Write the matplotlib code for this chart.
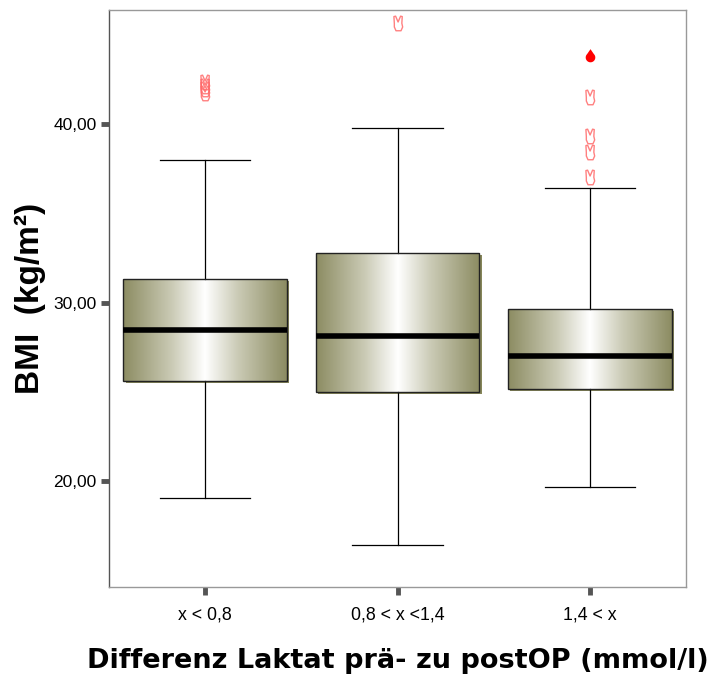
import numpy as np
import matplotlib
matplotlib.use("Agg")
import matplotlib.pyplot as plt
from matplotlib.colors import LinearSegmentedColormap
from matplotlib.patches import Rectangle
from matplotlib.path import Path

plt.rcParams['font.family'] = ['Liberation Sans', 'DejaVu Sans']

categories = ["x < 0,8", "0,8 < x <1,4", "1,4 < x"]
whisker_low = [19.05, 16.41, 19.66]
q1 = [25.60, 24.99, 25.15]
median = [28.46, 28.12, 27.00]
q3 = [31.32, 32.77, 29.64]
whisker_high = [37.98, 39.78, 36.41]
outliers = [[42.3, 42.1, 41.9, 41.7], [45.6], [41.46, 39.27, 38.38, 36.97]]
extremes = [[], [], [43.75]]
yticks = [20, 30, 40]

olive = "#8c8c62"
shadow = "#86865a"
cmap = LinearSegmentedColormap.from_list(
    "olive_sheen",
    [(0.0, olive), (0.3, "#cbcbb6"), (0.5, "#ffffff"), (0.7, "#cbcbb6"), (1.0, olive)])

fig = plt.figure(figsize=(7.12, 6.79), dpi=100)
ax = fig.add_axes([109 / 712, 1 - 587 / 679, 577 / 712, 577 / 679])
ax.set_xlim(-0.5, 2.5)
ax.set_ylim(14.06, 46.39)

width = 0.85
cap = 0.47
grad = np.linspace(0, 1, 256).reshape(1, -1)

# "victory hand" outline for outliers
hand = Path([(-0.5, -0.3), (-0.5, 0.1), (-0.55, 0.95), (-0.35, 1.0), (-0.05, 0.3),
             (0.25, 1.0), (0.45, 0.95), (0.4, 0.15), (0.5, -0.3), (0.3, -0.75),
             (-0.3, -0.75), (-0.5, -0.3)],
            [Path.MOVETO] + [Path.LINETO] * 10 + [Path.CLOSEPOLY])

# teardrop marker for extreme values
drop_verts = [(0, 1.3)]
for a in np.linspace(0.25 * np.pi, -1.25 * np.pi, 40):
    drop_verts.append((np.cos(a) * 0.75, np.sin(a) * 0.75))
drop_verts.append((0, 1.3))
drop = Path(drop_verts)

for i in range(len(categories)):
    x0 = i - width / 2
    h = q3[i] - q1[i]
    # drop shadow
    ax.add_patch(Rectangle((x0 + 0.012, q1[i] - 0.12), width, h, facecolor=shadow,
                           edgecolor="none", zorder=1))
    box = Rectangle((x0, q1[i]), width, h, facecolor="none", edgecolor="#222222",
                    linewidth=1.0, zorder=3)
    ax.add_patch(box)
    im = ax.imshow(grad, extent=(x0, x0 + width, q1[i], q3[i]), cmap=cmap,
                   aspect="auto", zorder=2, interpolation="bilinear")
    im.set_clip_path(box)
    ax.plot([x0, x0 + width], [median[i]] * 2, color="black", linewidth=4, zorder=4,
            solid_capstyle="butt")
    ax.plot([i, i], [q3[i], whisker_high[i]], color="black", linewidth=0.9, zorder=2)
    ax.plot([i, i], [whisker_low[i], q1[i]], color="black", linewidth=0.9, zorder=2)
    ax.plot([i - cap / 2, i + cap / 2], [whisker_high[i]] * 2, color="black", linewidth=0.9)
    ax.plot([i - cap / 2, i + cap / 2], [whisker_low[i]] * 2, color="black", linewidth=0.9)
    if outliers[i]:
        ax.plot([i] * len(outliers[i]), outliers[i], linestyle="none", marker=hand,
                markersize=12, markerfacecolor="none", markeredgecolor="#ff6a6a",
                markeredgewidth=1.0, alpha=0.85, zorder=5)
    if extremes[i]:
        ax.plot([i] * len(extremes[i]), extremes[i], linestyle="none", marker=drop,
                markersize=12, color="#ff0000", markeredgewidth=0, zorder=5)

ax.set_xticks(range(len(categories)))
ax.set_xticklabels(categories, fontsize=12.8)
ax.set_yticks(yticks)
ax.set_yticklabels([f"{v:.2f}".replace(".", ",") for v in yticks], fontsize=12.5)
ax.tick_params(axis="both", direction="out", length=6, width=3.5, color="#555555", pad=3)
ax.tick_params(axis="x", pad=8)

for side in ["top", "right", "bottom"]:
    ax.spines[side].set_color("#999999")
ax.spines["left"].set_color("#555555")
for s in ax.spines.values():
    s.set_linewidth(1.0)

ax.set_xlabel("Differenz Laktat prä- zu postOP (mmol/l)", fontsize=19.5, fontweight="bold",
              family=["DejaVu Sans"], labelpad=18)
ax.set_ylabel("BMI  (kg/m²)", fontsize=24, fontweight="bold",
              family=["Liberation Sans", "DejaVu Sans"], labelpad=5)

fig.savefig("out.png", dpi=100)
